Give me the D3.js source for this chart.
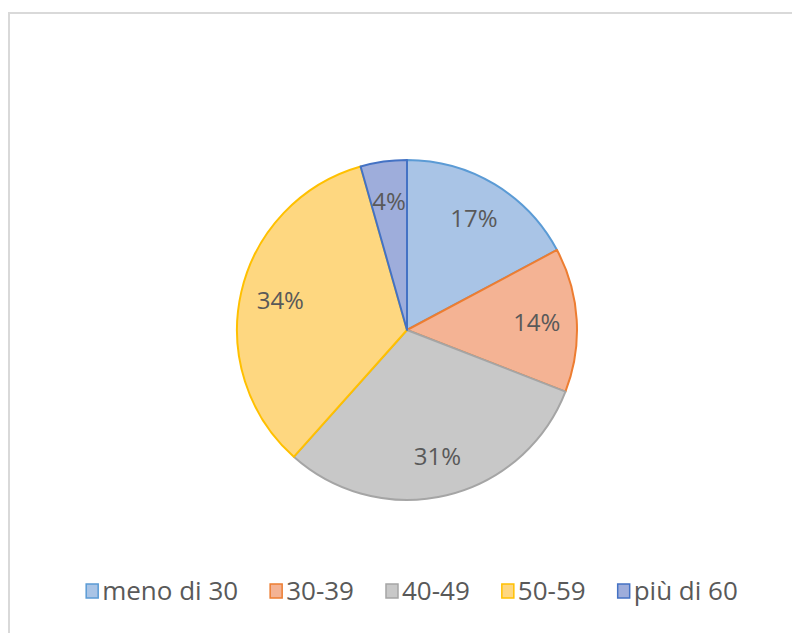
<!DOCTYPE html>
<html><head><meta charset="utf-8">
<script src="https://cdn.jsdelivr.net/npm/d3@7"></script>
<style>html,body{margin:0;padding:0;background:#fff;}svg{display:block;}</style>
</head><body><svg id="c" width="792" height="633"></svg>
<script>
const categories = ["meno di 30", "30-39", "40-49", "50-59", "più di 60"];
const values = [17.2, 13.7, 30.7, 34.0, 4.4];
const fillColors = ["#a9c4e6", "#f4b394", "#c8c8c8", "#fed780", "#9eaddb"];
const strokeColors = ["#5b9bd5", "#ed7d31", "#a5a5a5", "#ffc000", "#4472c4"];

const svg = d3.select("#c");
svg.append("rect").attr("x", 9).attr("y", 13).attr("width", 800).attr("height", 640)
  .attr("fill", "#fff").attr("stroke", "#d9d9d9").attr("stroke-width", 2);

const cx = 407, cy = 330, R = 170;
const total = d3.sum(values);
const pie = d3.pie().sort(null).value(d => d)(values);
const arc = d3.arc().innerRadius(0).outerRadius(R);
const labelArc = d3.arc().innerRadius(130).outerRadius(130);
const color = d3.scaleOrdinal().domain(categories).range(fillColors);
const stroke = d3.scaleOrdinal().domain(categories).range(strokeColors);

const g = svg.append("g").attr("transform", `translate(${cx},${cy})`);
g.selectAll("path").data(pie).join("path")
  .attr("d", arc)
  .attr("fill", (d, i) => color(categories[i]))
  .attr("stroke", (d, i) => stroke(categories[i]))
  .attr("stroke-width", 2)
  .attr("stroke-linejoin", "round");
g.selectAll("text").data(pie).join("text")
  .attr("transform", d => `translate(${labelArc.centroid(d)})`)
  .attr("text-anchor", "middle").attr("dy", "0.35em")
  .attr("font-family", "'Open Sans', sans-serif").attr("font-size", 24)
  .attr("fill", "#595959")
  .text(d => Math.round(d.value / total * 100) + "%");

// legend
const lg = svg.append("g");
const items = lg.selectAll("g").data(categories).join("g");
items.append("rect").attr("width", 12).attr("height", 14).attr("y", -7)
  .attr("fill", d => color(d)).attr("stroke", d => stroke(d)).attr("stroke-width", 1.5);
items.append("text").attr("x", 16).attr("dy", "0.35em")
  .attr("font-family", "'Open Sans', sans-serif").attr("font-size", 26)
  .attr("fill", "#595959").text(d => d);
let x = 0; const gap = 32;
items.each(function() {
  const w = this.getBBox().width;
  d3.select(this).attr("transform", `translate(${x},0)`);
  x += w + gap;
});
const totalW = x - gap;
lg.attr("transform", `translate(${412 - totalW / 2},591)`);
</script></body></html>
